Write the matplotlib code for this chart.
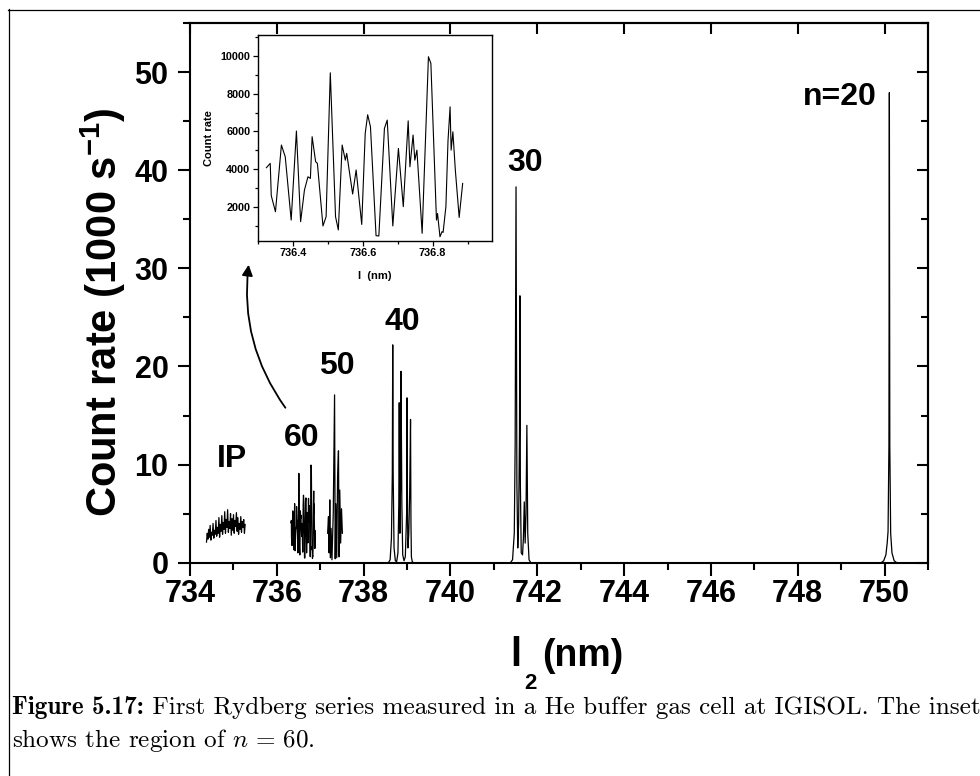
import numpy as np
import matplotlib
matplotlib.use("Agg")
import matplotlib.pyplot as plt
from matplotlib import font_manager
from matplotlib.patches import FancyArrowPatch
from matplotlib.lines import Line2D
from matplotlib.ticker import MultipleLocator

# ---------------------------------------------------------------- data
# Ionisation-potential region (count rate, 1000 s^-1)
ip_wl = [734.380, 734.397, 734.414, 734.430, 734.447, 734.464, 734.481, 734.498, 734.514, 734.531,
         734.548, 734.565, 734.582, 734.598, 734.615, 734.632, 734.649, 734.666, 734.682, 734.699,
         734.716, 734.733, 734.750, 734.766, 734.783, 734.800, 734.817, 734.834, 734.850, 734.867,
         734.884, 734.901, 734.918, 734.934, 734.951, 734.968, 734.985, 735.002, 735.018, 735.035,
         735.052, 735.069, 735.086, 735.102, 735.119, 735.136, 735.153, 735.170, 735.186, 735.203,
         735.220, 735.237, 735.254, 735.270]
ip_rate = [2.1, 3.0, 2.4, 3.4, 2.6, 3.8, 2.3, 3.1, 2.8, 4.0,
           2.5, 3.3, 2.9, 4.3, 2.7, 3.6, 3.0, 4.6, 2.6, 3.9,
           3.2, 4.8, 2.9, 4.1, 3.4, 5.2, 3.0, 4.4, 3.6, 5.4,
           3.1, 4.2, 3.5, 5.0, 2.8, 4.5, 3.3, 4.9, 3.0, 4.3,
           3.7, 5.1, 3.2, 4.6, 2.9, 4.0, 3.4, 4.7, 3.1, 4.2,
           3.6, 4.4, 3.0, 3.9]

# n = 60 region (counts per second), also shown in the inset
n60_wl = [736.324, 736.335, 736.338, 736.350, 736.367, 736.378, 736.395, 736.410, 736.422, 736.433,
          736.443, 736.450, 736.455, 736.465, 736.470, 736.486, 736.495, 736.507, 736.522, 736.530,
          736.541, 736.550, 736.554, 736.571, 736.581, 736.597, 736.607, 736.614, 736.622, 736.638,
          736.646, 736.662, 736.670, 736.686, 736.702, 736.716, 736.730, 736.735, 736.744, 736.749,
          736.755, 736.770, 736.788, 736.795, 736.811, 736.814, 736.821, 736.827, 736.830, 736.838,
          736.844, 736.850, 736.853, 736.858, 736.865, 736.876, 736.886]
n60_counts = [4080, 4310, 2600, 1750, 5280, 4660, 1310, 6020, 1225, 2900,
              3600, 3515, 5720, 4400, 4310, 1000, 1490, 9100, 1490, 790,
              5280, 4480, 4840, 2690, 3960, 1080, 5900, 6880, 6250, 485,
              470, 6160, 6600, 1000, 5100, 2020, 6560, 4130, 5810, 4480,
              5010, 610, 9950, 9600, 1310, 1660, 430, 700, 660, 2020,
              5500, 7300, 5010, 5980, 3960, 1450, 3250]

# n = 50 region
n50_wl = [737.17, 737.19, 737.205, 737.22, 737.235, 737.25, 737.27, 737.30, 737.33, 737.345,
          737.36, 737.38, 737.40, 737.42, 737.435, 737.45, 737.47, 737.49, 737.51]
n50_rate = [3.0, 4.7, 1.0, 6.4, 0.5, 3.5, 0.3, 5.0, 17.1, 0.4,
            6.0, 0.5, 8.8, 11.4, 0.6, 7.4, 2.0, 5.5, 3.0]

# n = 40 region
n40_wl = [738.57, 738.61, 738.64, 738.66, 738.67, 738.68, 738.70, 738.73, 738.76, 738.79,
          738.81, 738.82, 738.835, 738.85, 738.86, 738.88, 738.90, 738.93, 738.96, 738.99,
          739.00, 739.01, 739.02, 739.04, 739.06, 739.08, 739.09, 739.10, 739.12, 739.15]
n40_rate = [0, 0.3, 2.5, 9, 22.2, 9, 1.5, 0.2, 0.1, 1.0,
            6, 16.3, 3, 8, 19.5, 6, 0.8, 0.2, 0.6, 5,
            16.8, 5, 1.5, 3, 7, 14.6, 4, 0.6, 0.1, 0]

# n = 30 region
n30_wl = [741.38, 741.43, 741.47, 741.49, 741.51, 741.53, 741.55, 741.57, 741.59, 741.60,
          741.61, 741.63, 741.66, 741.68, 741.70, 741.72, 741.74, 741.76, 741.78, 741.81, 741.85]
n30_rate = [0, 0.3, 3, 12, 38.3, 8, 1.5, 4, 13.2, 27.2,
            8, 1.0, 0.8, 2.5, 6.2, 2.0, 5, 14.0, 3, 0.3, 0]

# n = 20 line
n20_wl = [749.92, 749.98, 750.03, 750.06, 750.08, 750.10, 750.11, 750.12, 750.14, 750.17, 750.22, 750.28]
n20_rate = [0, 0.2, 0.8, 2.0, 3.2, 12, 47.9, 12, 3.0, 1.0, 0.2, 0]

# peak labels: (text, wavelength, rate)
peak_labels = [("IP", 734.97, 10.6), ("60", 736.58, 12.7), ("50", 737.39, 20.0),
               ("40", 738.90, 24.5), ("30", 741.72, 40.7), ("n=20", 748.98, 47.5)]

# ---------------------------------------------------------------- style
plt.rcParams['font.family'] = ['Liberation Sans', 'DejaVu Sans']
plt.rcParams['font.weight'] = 'bold'
plt.rcParams['mathtext.fontset'] = 'custom'
plt.rcParams['mathtext.rm'] = 'Liberation Sans:bold'
plt.rcParams['mathtext.bf'] = 'Liberation Sans:bold'
plt.rcParams['mathtext.it'] = 'Liberation Sans:bold'

# tall, narrow digits for the wavelength axis when a narrow face is installed
narrow = [f.name for f in font_manager.fontManager.ttflist if f.name == 'Liberation Sans Narrow']
if narrow:
    xtick_family, xtick_size = 'Liberation Sans Narrow', 27
else:
    xtick_family, xtick_size = 'Liberation Sans', 22

W, H = 980, 776
fig = plt.figure(figsize=(W / 100, H / 100), dpi=100)


def fx(px):
    return px / W


def fy(py):
    return 1 - py / H


# ---------------------------------------------------------------- main axes
ax = fig.add_axes([fx(190), fy(562.7), (928 - 190) / W, (562.7 - 23) / H])
ax.set_xlim(734, 751)
ax.set_ylim(0, 55)
for s in ax.spines.values():
    s.set_linewidth(1.5)

line_kw = dict(color='black', lw=0.9)
ax.plot(ip_wl, ip_rate, **line_kw)
ax.plot(n60_wl, np.array(n60_counts) / 1000.0, **line_kw)
ax.plot(n50_wl, n50_rate, **line_kw)
ax.plot(n40_wl, n40_rate, **line_kw)
ax.plot(n30_wl, n30_rate, **line_kw)
ax.plot(n20_wl, n20_rate, **line_kw)

ax.xaxis.set_major_locator(MultipleLocator(2))
ax.xaxis.set_minor_locator(MultipleLocator(1))
ax.yaxis.set_major_locator(MultipleLocator(10))
ax.yaxis.set_minor_locator(MultipleLocator(5))
ax.tick_params(axis='x', which='major', direction='out', length=9, width=1.5,
               labelsize=xtick_size, pad=3)
ax.tick_params(axis='y', which='major', direction='out', length=8.5, width=1.5,
               labelsize=22, pad=7)
ax.tick_params(axis='both', which='minor', direction='out', length=5, width=1.5)
for lab in ax.get_xticklabels():
    lab.set_fontweight('bold')
    lab.set_family(xtick_family)
for lab in ax.get_yticklabels():
    lab.set_fontweight('bold')

top = ax.secondary_xaxis('top')
top.xaxis.set_major_locator(MultipleLocator(2))
top.tick_params(direction='in', length=8, width=1.5, labeltop=False)
top.spines['top'].set_linewidth(1.5)

right = ax.secondary_yaxis('right')
right.yaxis.set_major_locator(MultipleLocator(10))
right.yaxis.set_minor_locator(MultipleLocator(5))
right.tick_params(which='major', direction='in', length=8, width=1.5, labelright=False)
right.tick_params(which='minor', direction='in', length=5, width=1.5, labelright=False)
right.spines['right'].set_linewidth(1.5)

for txt, wl, rate in peak_labels:
    ax.text(wl, rate, txt, ha='center', va='center', fontsize=23, fontweight='bold')

# axis titles
fig.text(fx(103), fy(312), 'Count rate (1000 s$^{-1}$)', rotation=90,
         ha='center', va='center', fontsize=30, fontweight='bold')
fig.text(fx(516), fy(666), 'l', ha='center', va='baseline', fontsize=29, fontweight='bold')
fig.text(fx(530), fy(689), '2', ha='center', va='baseline', fontsize=16, fontweight='bold')
fig.text(fx(542), fy(666), '(nm)', ha='left', va='baseline', fontsize=27, fontweight='bold')

# ---------------------------------------------------------------- inset
axi = fig.add_axes([fx(258), fy(240.7), 234 / W, 205.7 / H])
axi.plot(n60_wl, n60_counts, color='black', lw=0.8)
axi.set_xlim(736.3, 736.97)
axi.set_ylim(220, 11100)
for s in axi.spines.values():
    s.set_linewidth(1.0)
axi.xaxis.set_major_locator(MultipleLocator(0.2))
axi.xaxis.set_minor_locator(MultipleLocator(0.1))
axi.yaxis.set_major_locator(MultipleLocator(2000))
axi.yaxis.set_minor_locator(MultipleLocator(1000))
axi.tick_params(which='major', direction='out', length=3.5, width=0.9, labelsize=7.8, pad=2)
axi.tick_params(which='minor', direction='out', length=2, width=0.9)
axi.set_yticks([2000, 4000, 6000, 8000, 10000])
axi.set_xticks([736.4, 736.6, 736.8])
axi.set_xticklabels(['736.4', '736.6', '736.8'])
for lab in axi.get_xticklabels() + axi.get_yticklabels():
    lab.set_fontweight('bold')
axi.set_xlabel('l  (nm)', fontsize=8, fontweight='bold', labelpad=9)
axi.set_ylabel('Count rate', fontsize=8, fontweight='bold', labelpad=5)

# arrow from the n = 60 group to the inset
arrow = FancyArrowPatch((fx(287), fy(410)), (fx(249), fy(262)), transform=fig.transFigure,
                        connectionstyle='arc3,rad=-0.2', arrowstyle='-|>',
                        mutation_scale=16, lw=1.3, color='black')
fig.add_artist(arrow)

# ---------------------------------------------------------------- caption
cap_size = 14
c1 = fig.text(fx(12), fy(714), 'Figure 5.17:', family='cmb10', fontweight='normal',
              fontsize=cap_size, va='baseline', ha='left')
c2 = fig.text(0, fy(714),
              ' First Rydberg series measured in a He buffer gas cell at IGISOL. The inset',
              family='cmr10', fontweight='normal', fontsize=cap_size, va='baseline', ha='left')
c3 = fig.text(fx(12), fy(747), r'shows the region of $n\,=\,60$.', family='cmr10',
              fontweight='normal', math_fontfamily='cm', fontsize=cap_size,
              va='baseline', ha='left')
fig.canvas.draw()
r = fig.canvas.get_renderer()
w1 = c1.get_window_extent(r).width
w2 = c2.get_window_extent(r).width
new_size = cap_size * 966 / (w1 + w2)
for c in (c1, c2, c3):
    c.set_fontsize(new_size)
fig.canvas.draw()
w1 = c1.get_window_extent(r).width
c2.set_x(fx(12 + w1))

# frame round the figure and its caption
fig.add_artist(Line2D([fx(8.5), fx(8.5)], [fy(9), 0], transform=fig.transFigure,
                      color='black', lw=0.9))
fig.add_artist(Line2D([fx(8), 1], [fy(9.5), fy(9.5)], transform=fig.transFigure,
                      color='black', lw=0.9))

fig.savefig('out.png', dpi=100)
